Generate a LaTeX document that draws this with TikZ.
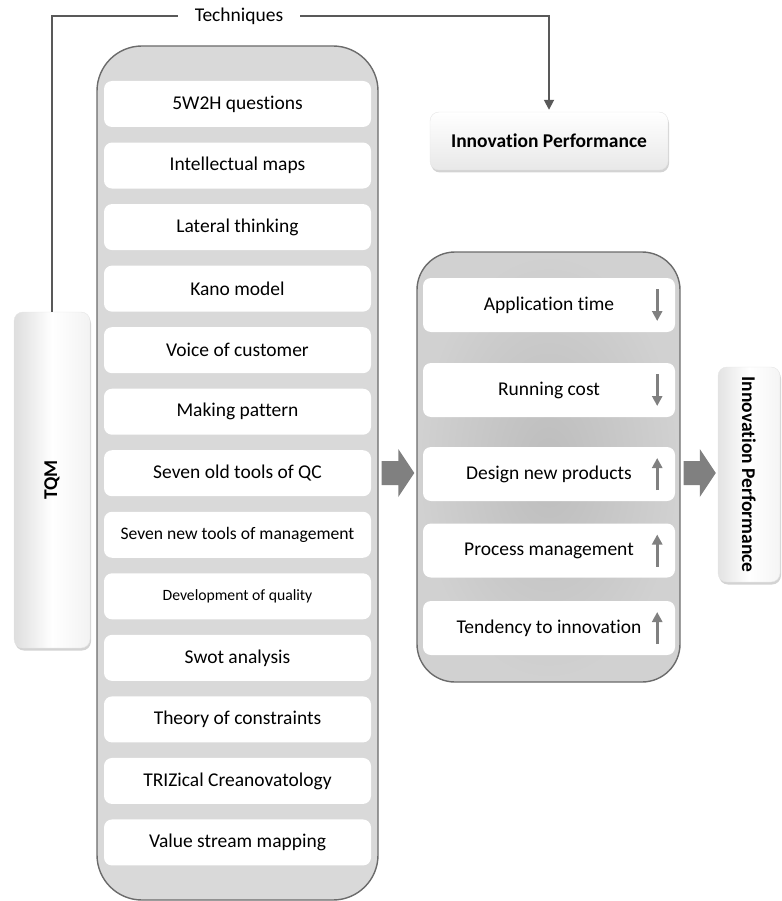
\documentclass[tikz,border=0pt]{standalone}
\usepackage{fontspec}
\setmainfont{Carlito}[RawFeature={-liga;-clig;-calt;-dlig}]
\usetikzlibrary{arrows.meta,shadows,calc}

\definecolor{linegray}{HTML}{595959}
\definecolor{panelgray}{HTML}{D9D9D9}
\definecolor{edgegray}{HTML}{6B6B6B}
\definecolor{arrowgray}{HTML}{808080}

\tikzset{
  txt/.style={font=\fontsize{19.5}{23}\selectfont},
  panel/.style={draw=edgegray,line width=1.4pt,rounded corners=45pt},
  item/.style={fill=white,rounded corners=8pt,inner sep=0pt,txt},
  bevel/.style={draw=black!10,rounded corners=9pt,inner sep=0pt,
    font=\fontsize{19.5}{23}\selectfont\bfseries,
    drop shadow={opacity=0.35,shadow xshift=1pt,shadow yshift=-2.5pt}},
  trend/.style={draw=arrowgray,line width=3pt,-{Triangle[width=10pt,length=10pt]}},
  link/.style={draw=linegray,line width=1.8pt}
}

\begin{document}
\begin{tikzpicture}[x=1pt,y=-1pt]
\useasboundingbox (0,0) rectangle (781,901);

% techniques panel
\node[panel,fill=panelgray,minimum width=281pt,minimum height=854pt] (tech) at (237.5,473) {};
\foreach \txt [count=\i] in {5W2H questions, Intellectual maps, Lateral thinking, Kano model,
    Voice of customer, Making pattern, Seven old tools of QC,
    {\fontsize{17.6}{20}\selectfont Seven new tools of management},
    {\fontsize{15.7}{18}\selectfont Development of quality},
    Swot analysis, Theory of constraints, TRIZical Creanovatology, Value stream mapping}
  \node[item,minimum width=267pt,minimum height=46pt] (t\i) at (237.5,{104+61.54*(\i-1)}) {\txt};

% performance measures panel
\node[panel,rounded corners=38pt,inner color=black!26,outer color=black!18,
  minimum width=263pt,minimum height=430pt] (metrics) at (548.5,467) {};
\foreach \yc/\txt/\dir [count=\i] in {305/Application time/1, 390/Running cost/1,
    474/Design new products/-1, 550.5/Process management/-1, 628/Tendency to innovation/-1}
{
  \node[item,minimum width=252pt,minimum height=54pt] (m\i) at (549,\yc) {\txt};
  \draw[trend] ($(m\i.east)+(-18,-16*\dir)$) -- ++(0,32*\dir);
}

\node[bevel,left color=black!13,right color=black!5,middle color=white,
  minimum width=76pt,minimum height=336pt] (tqm) at (52,480) {\rotatebox{90}{TQM}};
\node[bevel,top color=white,bottom color=black!9,
  minimum width=238pt,minimum height=58pt] (perftop) at (549,141) {Innovation Performance};
\node[bevel,left color=black!11,right color=black!4,middle color=white,
  minimum width=62pt,minimum height=215pt] (perfside) at (749,474.5) {\rotatebox{-90}{Innovation Performance}};

% block arrows between the panels
\foreach \src/\dst in {tech.east/metrics.west, metrics.east/perfside.west}
{
  \coordinate (s) at (\src |- tech.east);
  \coordinate (e) at (\dst |- tech.east);
  \fill[arrowgray] ($(s)+(3,-12)$) -- ($(e)+(-18,-12)$) -- ($(e)+(-18,-24)$) -- ($(e)+(-2,0)$)
    -- ($(e)+(-18,24)$) -- ($(e)+(-18,12)$) -- ($(s)+(3,12)$) -- cycle;
}

% techniques line
\coordinate (techrow) at (0,16);
\draw[link,-{Triangle[width=10pt,length=10pt]},shorten >=2pt]
  (tqm.north) |- (perftop.north |- techrow) -- (perftop.north);
\node[txt,fill=white,inner xsep=17pt,inner ysep=2pt] (techlabel) at (239,16) {Techniques};
\end{tikzpicture}
\end{document}
